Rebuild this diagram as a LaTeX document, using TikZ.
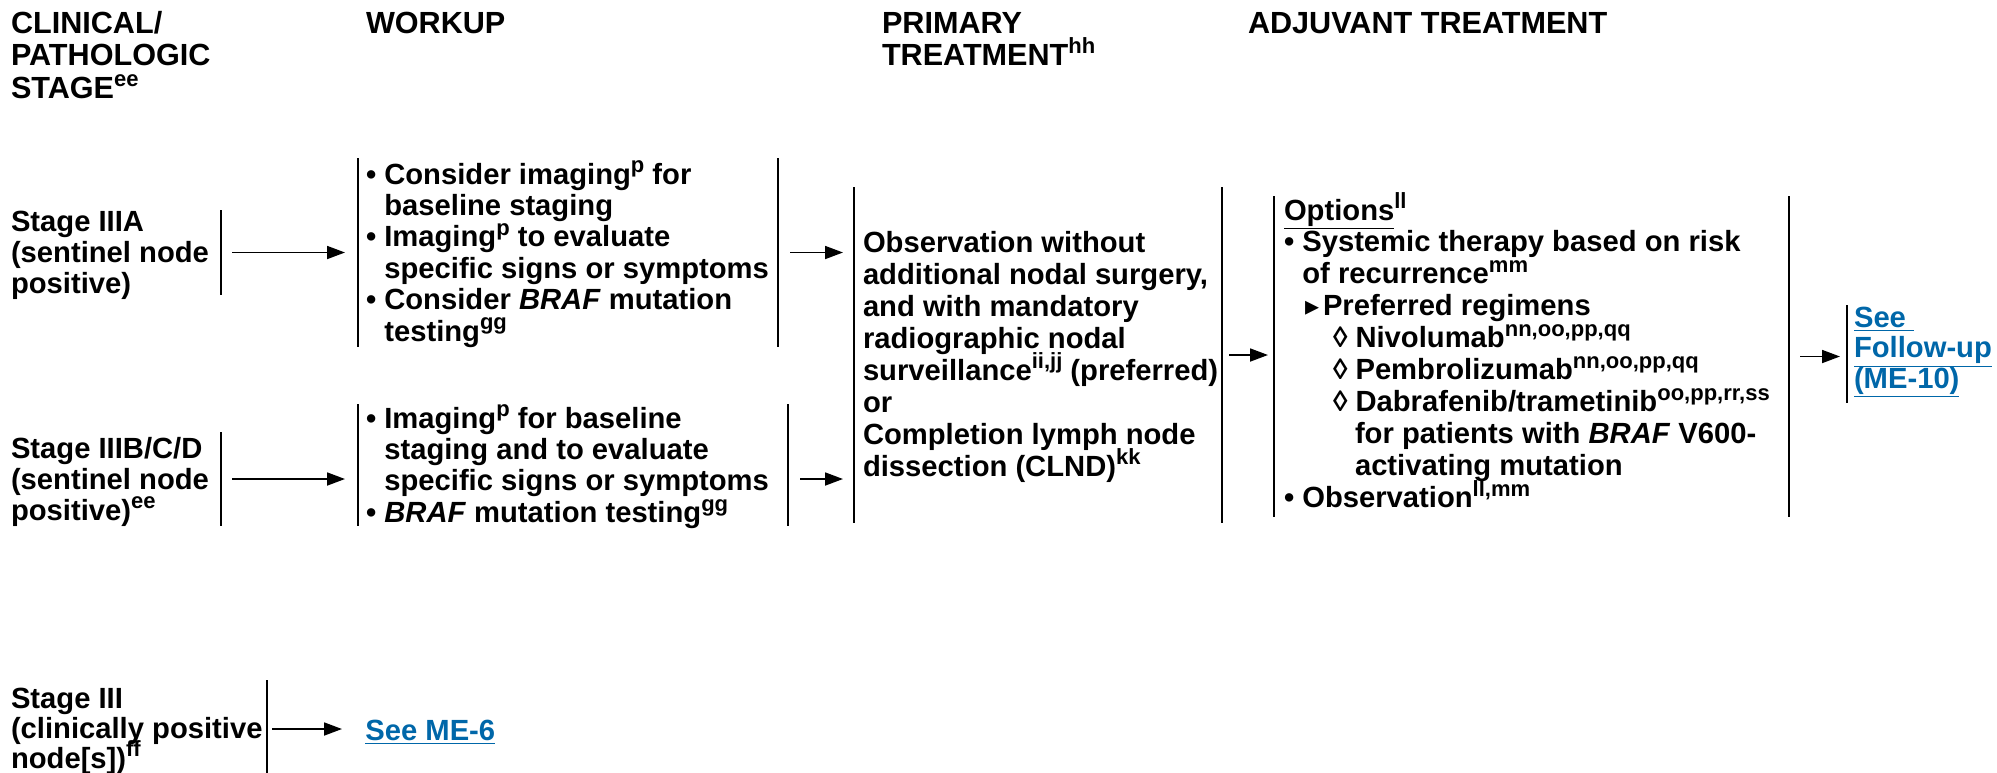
\documentclass[tikz,border=0pt]{standalone}
\usepackage{fontspec}
\setmainfont{Liberation Sans}
\newfontfamily\dejavu{DejaVu Sans}
\usetikzlibrary{arrows.meta,fit}
\definecolor{linkblue}{RGB}{0,103,169}
\newcommand\sps[1]{\raisebox{0.38em}{\fontsize{11}{11}\selectfont #1}}
\newcommand\fl{\rule{0pt}{14pt}}
\newcommand\ind{\hphantom{•\ }}
\newcommand\bodyfont[1]{\fontsize{14.6}{#1}\selectfont\bfseries\lineskiplimit=-30pt\lineskip=0pt\relax}
\newcommand\hdfont{\fontsize{15.3}{16.3}\selectfont\bfseries\lineskiplimit=-30pt\lineskip=0pt\relax}
\newcommand\tri{\makebox[9pt][l]{\dejavu\fontsize{14}{14}\selectfont ▸}}
\tikzset{
  txt/.style={inner sep=0pt, outer sep=0pt, anchor=north west, align=left},
  frame/.style={inner sep=0pt, outer sep=0pt},
  bar/.style={line width=0.85pt},
  arr/.style={line width=0.9pt, -{Triangle[length=9pt,width=6.5pt]}},
  link/.style={text=linkblue}
}
\begin{document}
\begin{tikzpicture}[x=0.5pt,y=-0.5pt]
\useasboundingbox (0,0) rectangle (1997,772);
% headers
\node[txt, font=\hdfont] (h1) at (11,5) {\fl CLINICAL/\\PATHOLOGIC\\STAGE\sps{ee}};
\node[txt, font=\hdfont] (h2) at (366,5) {\fl WORKUP};
\node[txt, font=\hdfont] (h3) at (882,5) {\fl PRIMARY\\TREATMENT\sps{hh}};
\node[txt, font=\hdfont] (h4) at (1248,5) {\fl ADJUVANT TREATMENT};
% frames (bar extents)
\node[frame, fit={(11,210) (221,295)}] (s1) {};
\node[frame, fit={(358,158) (778,347)}] (w1) {};
\node[frame, fit={(854,187) (1222,523)}] (p) {};
\node[frame, fit={(1274,196) (1789,517)}] (a) {};
\node[frame, fit={(1847,305) (1880,403)}] (f) {};
\node[frame, fit={(11,432) (221,526)}] (s2) {};
\node[frame, fit={(358,404) (788,526)}] (w2) {};
\node[frame, fit={(11,680) (267,778)}] (s3) {};
% texts
\node[txt, font=\bodyfont{15.5pt}] (s1t) at (11,203) {\fl Stage IIIA\\(sentinel node\\positive)};
\node[txt, font=\bodyfont{15.7pt}] (w1t) at (366,156) {\fl • Consider imaging\sps{p} for\\\ind baseline staging\\• Imaging\sps{p} to evaluate\\\ind specific signs or symptoms\\• Consider \textit{BRAF} mutation\\\ind testing\sps{gg}};
\node[txt, font=\bodyfont{16pt}] (pt) at (863,224) {\fl Observation without\\additional nodal surgery,\\and with mandatory\\radiographic nodal\\surveillance\sps{ii,jj} (preferred)\\or\\Completion lymph node\\dissection (CLND)\sps{kk}};
\node[txt, font=\bodyfont{15.95pt}] (at) at (1284,192) {\fl \underline{Options}\sps{ll}\\• Systemic therapy based on risk\\\ind of recurrence\sps{mm}\\\hspace*{10.5pt}\tri Preferred regimens\\\hspace*{24.5pt}◊ Nivolumab\sps{nn,oo,pp,qq}\\\hspace*{24.5pt}◊ Pembrolizumab\sps{nn,oo,pp,qq}\\\hspace*{24.5pt}◊ Dabrafenib/trametinib\sps{oo,pp,rr,ss}\\\hspace*{35.5pt}for patients with \textit{BRAF} V600-\\\hspace*{35.5pt}activating mutation\\• Observation\sps{ll,mm}};
\node[txt, link, font=\bodyfont{15.25pt}] (ft) at (1854,299) {\fl\underline{See\ }\\\underline{Follow-up}\\\underline{(ME-10)}};
\node[txt, font=\bodyfont{15.5pt}] (s2t) at (11,430) {\fl Stage IIIB/C/D\\(sentinel node\\positive)\sps{ee}};
\node[txt, font=\bodyfont{15.7pt}] (w2t) at (366,400) {\fl • Imaging\sps{p} for baseline\\\ind staging and to evaluate\\\ind specific signs or symptoms\\• \textit{BRAF} mutation testing\sps{gg}};
\node[txt, font=\bodyfont{15pt}] (s3t) at (11,680) {\fl Stage III\\(clinically positive\\node[s])\sps{ff}};
\node[inner sep=0pt, anchor=base west, link, font=\bodyfont{14.6pt}] (m6) at (365,740) {\underline{See ME-6}};
% bars
\draw[bar] (s1.north east) -- (s1.south east);
\draw[bar] (s2.north east) -- (s2.south east);
\draw[bar] (s3.north east) -- (s3.south east);
\draw[bar] (w1.north west) -- (w1.south west) (w1.north east) -- (w1.south east);
\draw[bar] (w2.north west) -- (w2.south west) (w2.north east) -- (w2.south east);
\draw[bar] (p.north west) -- (p.south west) (p.north east) -- (p.south east);
\draw[bar] (a.north west) -- (a.south west) (a.north east) -- (a.south east);
\draw[bar] (f.north west) -- (f.south west);
% arrows
\draw[arr] ([xshift=5.5pt]s1.east) -- ([xshift=-6.5pt]w1.west |- s1.east);
\draw[arr] ([xshift=6pt]w1.east) -- ([xshift=-5.5pt]p.west |- w1.east);
\draw[arr] ([xshift=5.5pt]s2.east) -- ([xshift=-6.5pt]w2.west |- s2.east);
\draw[arr] ([xshift=6pt]w2.east |- s2.east) -- ([xshift=-5.5pt]p.west |- s2.east);
\draw[arr] ([xshift=3.5pt]p.east) -- ([xshift=-3pt]a.west |- p.east);
\draw[arr] ([xshift=5.5pt]a.east) -- ([xshift=-3.5pt]f.west |- a.east);
\draw[arr] ([xshift=2.5pt]s3.east) -- ([xshift=-11.5pt]m6.west |- s3.east);
\end{tikzpicture}
\end{document}
